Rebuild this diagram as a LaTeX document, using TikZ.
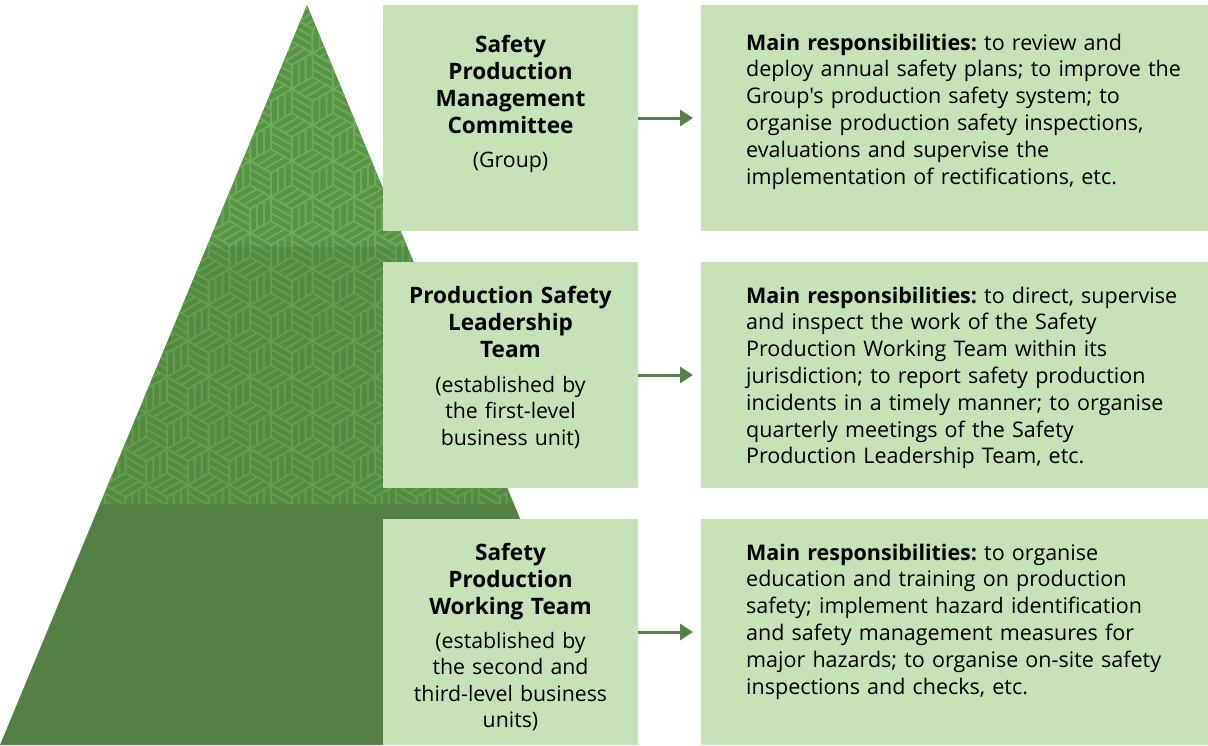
\documentclass[tikz,border=0pt]{standalone}
\usepackage{fontspec}
\setmainfont{Open Sans}[Ligatures=TeXOff]
\usetikzlibrary{arrows.meta}
\frenchspacing
\definecolor{boxg}{RGB}{199,225,184}
\definecolor{solidg}{RGB}{84,128,70}
\definecolor{arrowg}{RGB}{84,130,70}
\definecolor{topbase}{RGB}{90,146,71}
\definecolor{topline}{RGB}{107,171,88}
\definecolor{midbase}{RGB}{85,138,67}
\definecolor{midline}{RGB}{98,158,80}
\newcommand{\hexpat}[3]{%
  \foreach \j in {#2,...,#3}{%
    \foreach \i in {0,...,16}{%
      \pgfmathsetmacro{\cx}{\i*41.569 + mod(\j,2)*20.785 - 20}%
      \pgfmathsetmacro{\cy}{\j*36 + 5}%
      \begin{scope}[shift={(\cx,\cy)}]
        \draw[draw=#1, line width=1.8pt]
          (0,-24) -- (20.785,-12) -- (20.785,12) -- (0,24) -- (-20.785,12) -- (-20.785,-12) -- cycle
          (0,0) -- (0,-24) (0,0) -- (-20.785,12) (0,0) -- (20.785,12)
          (-6.928,4) -- (-6.928,-20) (-13.856,8) -- (-13.856,-16)
          (0,-8) -- (20.785,4) (0,-16) -- (20.785,-4)
          (6.928,4) -- (-13.856,16) (13.856,8) -- (-6.928,20);
      \end{scope}
    }%
  }%
}
\begin{document}
\begin{tikzpicture}[x=1pt,y=-1pt,
  box/.style={fill=boxg, draw=none, inner sep=0pt, outer sep=0pt, anchor=north west, minimum height=226pt},
  lbox/.style={box, minimum width=255pt},
  rbox/.style={box, minimum width=507pt},
  ttl/.style={font=\fontsize{22.6}{27}\selectfont\bfseries\frenchspacing, text width=255pt, align=center, inner sep=0pt, anchor=base},
  sub/.style={font=\fontsize{21.3}{26.5}\selectfont\frenchspacing, text width=255pt, align=center, inner sep=0pt, anchor=base},
  rtxt/.style={font=\fontsize{21.5}{26.8}\selectfont\frenchspacing, text width=462pt, align=left, inner sep=0pt, anchor=base west},
  arr/.style={draw=arrowg, line width=3pt, -{Triangle[length=13pt,width=16pt]}}
]
\useasboundingbox (0,0) rectangle (1208,745);
% pyramid
\begin{scope}
  \clip (307,5) -- (0,745) -- (614,745) -- cycle;
  \fill[topbase] (0,0) rectangle (620,247);
  \fill[midbase] (0,247) rectangle (620,504);
  \begin{scope}
    \clip (0,0) rectangle (620,247);
    \hexpat{topline}{0}{7}
  \end{scope}
  \begin{scope}
    \clip (0,247) rectangle (620,504);
    \hexpat{midline}{6}{14}
  \end{scope}
  \fill[solidg] (0,504) rectangle (620,745);
\end{scope}
% boxes
\node[lbox] (lt) at (383,5) {};
\node[lbox] (lm) at (383,262) {};
\node[lbox] (lb) at (383,519) {};
\node[rbox] (rt) at (701,5) {};
\node[rbox] (rm) at (701,262) {};
\node[rbox] (rb) at (701,519) {};
% left texts
\node[ttl] (t1) at (510.5,52) {Safety\\Production\\Management\\Committee};
\node[sub] (s1) at (510.5,167) {(Group)};
\node[ttl] (t2) at (510.5,303) {Production Safety\\Leadership\\Team};
\node[sub] (s2) at (510.5,392) {(established by\\the first-level\\business unit)};
\node[ttl] (t3) at (510.5,560) {Safety\\Production\\Working Team};
\node[sub] (s3) at (510.5,648) {(established by\\the second and\\third-level business\\units)};
% right texts
\node[rtxt] (r1) at (746,50) {\textbf{Main responsibilities:} to review and\\deploy annual safety plans; to improve the\\Group's production safety system; to\\organise production safety inspections,\\evaluations and supervise the\\implementation of rectifications, etc.};
\node[rtxt] (r2) at (746,303) {\textbf{Main responsibilities:} to direct, supervise\\and inspect the work of the Safety\\Production Working Team within its\\jurisdiction; to report safety production\\incidents in a timely manner; to organise\\quarterly meetings of the Safety\\Production Leadership Team, etc.};
\node[rtxt] (r3) at (746,560) {\textbf{Main responsibilities:} to organise\\education and training on production\\safety; implement hazard identification\\and safety management measures for\\major hazards; to organise on-site safety\\inspections and checks, etc.};
% arrows
\coordinate (a1) at (693,118);
\coordinate (a2) at (693,375);
\coordinate (a3) at (693,632);
\draw[arr] (lt.east) -- (a1);
\draw[arr] (lm.east) -- (a2);
\draw[arr] (lb.east) -- (a3);
\end{tikzpicture}
\end{document}
